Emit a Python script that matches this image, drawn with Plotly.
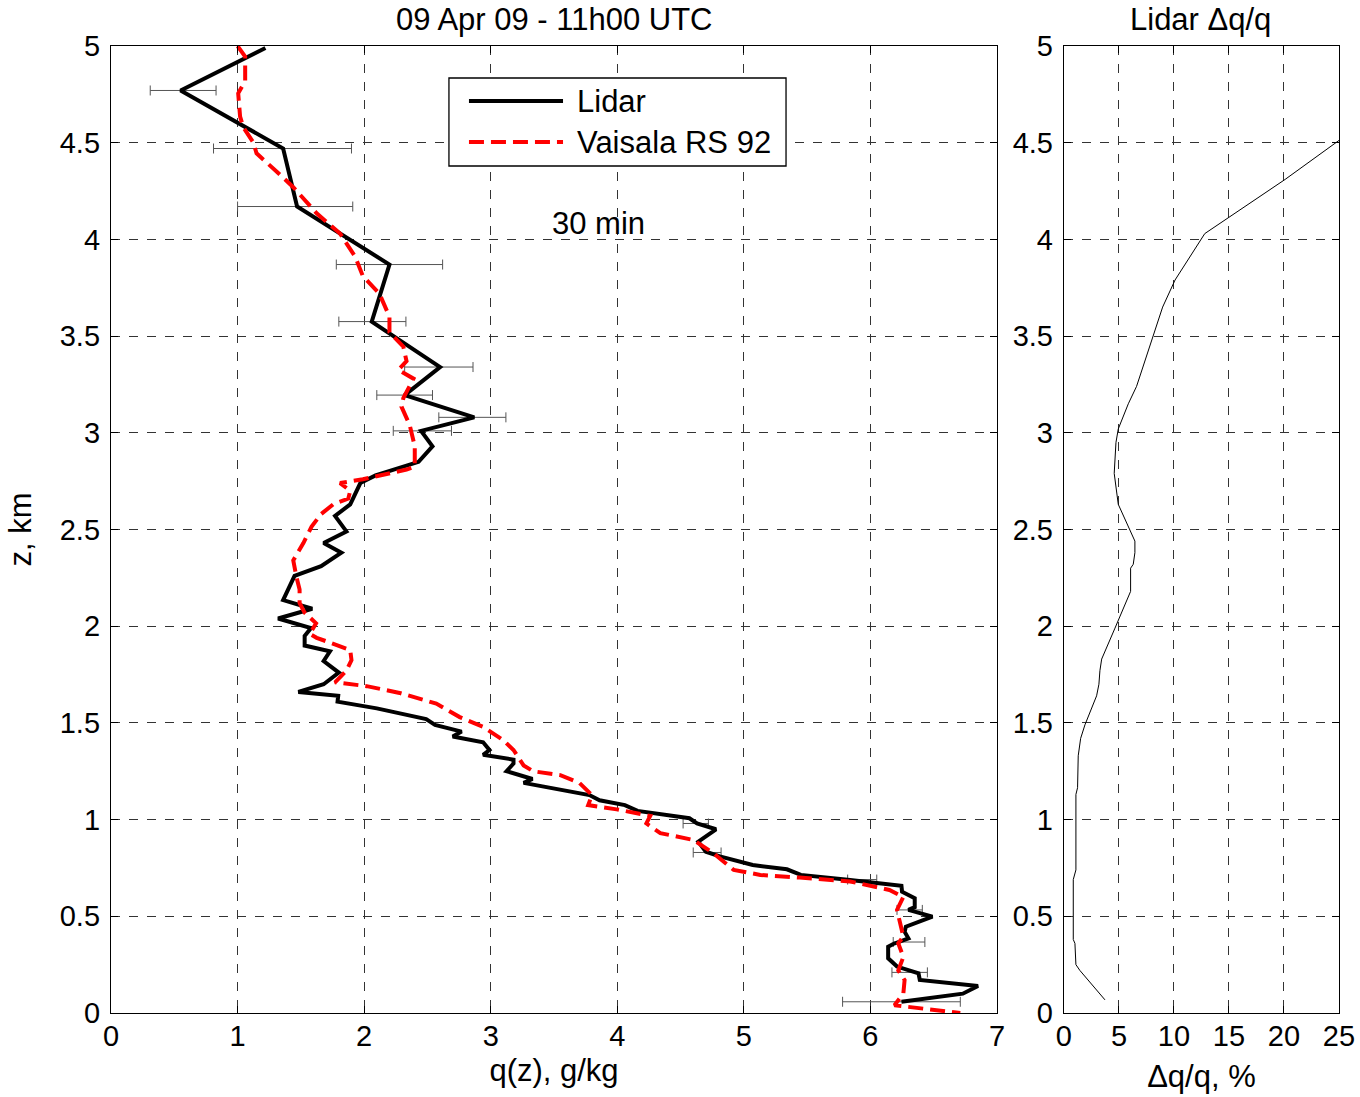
import plotly.graph_objects as go

# ---- Data ----
lidar_z = [4.99, 4.77, 4.47, 4.17, 3.87, 3.575, 3.34, 3.195, 3.08, 3.01, 2.93, 2.85, 2.78, 2.74,
           2.63, 2.57, 2.49, 2.43, 2.38, 2.31, 2.26, 2.20, 2.135, 2.09, 2.04, 1.99, 1.95, 1.90,
           1.87, 1.82, 1.76, 1.70, 1.66, 1.64, 1.61, 1.575, 1.52, 1.49, 1.455, 1.43, 1.40, 1.36,
           1.335, 1.31, 1.29, 1.25, 1.21, 1.19, 1.127, 1.10, 1.075, 1.045, 1.007, 0.98, 0.95,
           0.886, 0.834, 0.81, 0.765, 0.743, 0.714, 0.688, 0.658, 0.627, 0.593, 0.547, 0.533,
           0.498, 0.446, 0.42, 0.386, 0.357, 0.343, 0.283, 0.24, 0.205, 0.171, 0.14, 0.10, 0.058]
lidar_q = [1.22, 0.55, 1.36, 1.47, 2.20, 2.06, 2.60, 2.32, 2.87, 2.45, 2.54, 2.43, 2.09, 1.97,
           1.89, 1.77, 1.86, 1.68, 1.82, 1.66, 1.45, 1.41, 1.36, 1.59, 1.32, 1.58, 1.53, 1.53,
           1.73, 1.68, 1.80, 1.68, 1.48, 1.795, 1.79, 2.10, 2.49, 2.56, 2.77, 2.70, 2.94, 2.99,
           2.94, 3.18, 3.18, 3.125, 3.33, 3.26, 3.78, 3.86, 4.06, 4.16, 4.57, 4.63, 4.78,
           4.64, 4.70, 4.81, 5.07, 5.34, 5.45, 5.84, 6.245, 6.25, 6.35, 6.35, 6.30,
           6.49, 6.28, 6.27, 6.30, 6.18, 6.14, 6.14, 6.21, 6.38, 6.39, 6.85, 6.73, 6.245]

rs92_z = [5.0, 4.945, 4.82, 4.755, 4.635, 4.58, 4.50, 4.445, 4.35, 4.27, 4.135, 4.03, 3.91, 3.81,
          3.72, 3.60, 3.52, 3.445, 3.37, 3.325, 3.28, 3.18, 3.135, 3.04, 2.93, 2.825, 2.81, 2.76,
          2.74, 2.70, 2.66, 2.63, 2.58, 2.515, 2.43, 2.34, 2.255, 2.19, 2.12, 2.07, 2.015, 1.96,
          1.94, 1.877, 1.825, 1.77, 1.71, 1.69, 1.655, 1.60, 1.53, 1.48, 1.41, 1.36, 1.28, 1.25,
          1.23, 1.19, 1.127, 1.075, 1.053, 1.019, 0.98, 0.93, 0.895, 0.826, 0.74, 0.714, 0.70,
          0.68, 0.636, 0.60, 0.533, 0.464, 0.395, 0.36, 0.29, 0.22, 0.17, 0.10, 0.04, 0.0]
rs92_q = [1.0, 1.06, 1.06, 1.005, 1.02, 1.045, 1.125, 1.15, 1.31, 1.44, 1.625, 1.81, 1.93, 1.99,
          2.12, 2.20, 2.20, 2.31, 2.335, 2.27, 2.39, 2.31, 2.295, 2.36, 2.40, 2.40, 2.335, 1.99,
          1.81, 1.89, 1.875, 1.755, 1.66, 1.585, 1.52, 1.44, 1.465, 1.49, 1.49, 1.53, 1.62, 1.57,
          1.625, 1.89, 1.90, 1.86, 1.77, 2.02, 2.28, 2.57, 2.755, 2.94, 3.10, 3.18, 3.26, 3.335,
          3.55, 3.70, 3.80, 3.77, 3.995, 4.26, 4.23, 4.34, 4.60, 4.76, 4.92, 5.13, 5.44,
          5.84, 6.15, 6.26, 6.21, 6.235, 6.26, 6.22, 6.26, 6.22, 6.27, 6.26, 6.19, 6.71]

err_z = [4.77, 4.47, 4.17, 3.87, 3.575, 3.34, 3.195, 3.08, 3.01, 0.98, 0.83, 0.69, 0.533, 0.367, 0.21, 0.058]
err_q = [0.57, 1.355, 1.455, 2.20, 2.065, 2.59, 2.32, 2.855, 2.46, 4.62, 4.71, 5.935, 6.31, 6.305, 6.31, 6.245]
err_dq = [0.26, 0.545, 0.455, 0.42, 0.265, 0.27, 0.22, 0.265, 0.23, 0.10, 0.11, 0.115, 0.10, 0.125, 0.14, 0.465]

rel_z = [4.52, 4.31, 4.03, 3.79, 3.65, 3.24, 3.15, 3.02, 2.95, 2.79, 2.63, 2.47, 2.44, 2.38, 2.32,
         2.30, 2.18, 1.99, 1.83, 1.77, 1.70, 1.64, 1.49, 1.42, 1.33, 1.165, 1.13, 0.74, 0.69,
         0.38, 0.36, 0.25, 0.22, 0.068]
rel_dq = [25.2, 20.1, 12.8, 10.1, 8.97, 6.6, 5.85, 4.94, 4.73, 4.57, 4.94, 6.15, 6.45, 6.45, 6.3,
          6.06, 6.06, 4.64, 3.43, 3.27, 3.18, 2.97, 1.91, 1.52, 1.30, 1.24, 1.09, 1.09, 0.85,
          0.85, 1.0, 1.09, 1.45, 3.73]

legend_names = ["Lidar", "Vaisala RS 92"]

FONT = "Liberation Sans, Arial, Helvetica, sans-serif"
TXT = 31
RED_DASH = "15px,7px"

fig = go.Figure()

fig.add_trace(go.Scatter(x=err_q, y=err_z, mode="markers",
                         marker=dict(size=1, color="rgba(0,0,0,0)"),
                         error_x=dict(type="data", array=err_dq, visible=True,
                                      color="#555555", thickness=1, width=5),
                         showlegend=False, hoverinfo="skip"))
fig.add_trace(go.Scatter(x=lidar_q, y=lidar_z, mode="lines", name=legend_names[0],
                         showlegend=False, line=dict(color="black", width=4)))
fig.add_trace(go.Scatter(x=rs92_q, y=rs92_z, mode="lines", name=legend_names[1],
                         showlegend=False, line=dict(color="#ff0000", width=4, dash=RED_DASH)))
fig.add_trace(go.Scatter(x=rel_dq, y=rel_z, mode="lines", showlegend=False, name="Δq/q",
                         line=dict(color="black", width=1), xaxis="x2", yaxis="y2"))

axis_common = dict(showline=True, linecolor="black", linewidth=1.3, mirror="allticks",
                   ticks="inside", ticklen=7, tickcolor="black", automargin=False,
                   showgrid=True, gridcolor="#333333", gridwidth=1, griddash="dash",
                   zeroline=False, tickfont=dict(family=FONT, size=29, color="black"))

# legend box drawn in paper coordinates (upper middle of main panel)
lx0, lx1, ly0, ly1 = 0.2752, 0.5497, 0.8759, 0.9669
sx0, sx1, tx = 0.2915, 0.3681, 0.3779
row_y = [0.9431, 0.9007]
shapes = [
    dict(type="rect", xref="paper", yref="paper", x0=lx0, x1=lx1, y0=ly0, y1=ly1,
         line=dict(color="black", width=1.3), fillcolor="white", layer="above"),
    dict(type="line", xref="paper", yref="paper", x0=sx0, x1=sx1, y0=row_y[0], y1=row_y[0],
         line=dict(color="black", width=4), layer="above"),
    dict(type="line", xref="paper", yref="paper", x0=sx0, x1=sx1, y0=row_y[1], y1=row_y[1],
         line=dict(color="#ff0000", width=4, dash=RED_DASH), layer="above"),
]

annotations = [
    dict(text="09 Apr 09 - 11h00 UTC", x=0.3608, xref="paper", y=1.0, yref="paper",
         yshift=27, showarrow=False, xanchor="center", yanchor="middle", font=dict(size=TXT)),
    dict(text="Lidar Δq/q", x=0.887, xref="paper", y=1.0, yref="paper",
         yshift=27, showarrow=False, xanchor="center", yanchor="middle", font=dict(size=TXT)),
    dict(text="30 min", x=3.85, y=4.08, xref="x", yref="y", showarrow=False,
         xanchor="center", font=dict(size=TXT)),
]
for name, ry in zip(legend_names, row_y):
    annotations.append(dict(text=name, x=tx, y=ry, xref="paper", yref="paper",
                            xanchor="left", yanchor="middle", showarrow=False,
                            font=dict(size=TXT)))

fig.update_layout(
    width=1360, height=1097,
    margin=dict(l=111, r=21, t=46, b=84),
    paper_bgcolor="white", plot_bgcolor="white",
    font=dict(family=FONT, color="black"),
    showlegend=False,
    xaxis=dict(domain=[0, 0.7215], range=[0, 7], dtick=1, ticklabelstandoff=-3,
               title=dict(text="q(z), g/kg", font=dict(size=TXT), standoff=8), **axis_common),
    yaxis=dict(range=[0, 5], dtick=0.5, ticklabelstandoff=4,
               title=dict(text="z, km", font=dict(size=TXT), standoff=18), **axis_common),
    xaxis2=dict(domain=[0.776, 1], range=[0, 25], dtick=5, anchor="y2", ticklabelstandoff=-3,
                title=dict(text="Δq/q, %", font=dict(size=TXT), standoff=14), **axis_common),
    yaxis2=dict(range=[0, 5], dtick=0.5, anchor="x2", ticklabelstandoff=4, **axis_common),
    shapes=shapes,
    annotations=annotations,
)

fig.write_html("out.html", config={"displayModeBar": False},
               post_script="document.body.style.margin='0';document.body.style.overflow='hidden';")
